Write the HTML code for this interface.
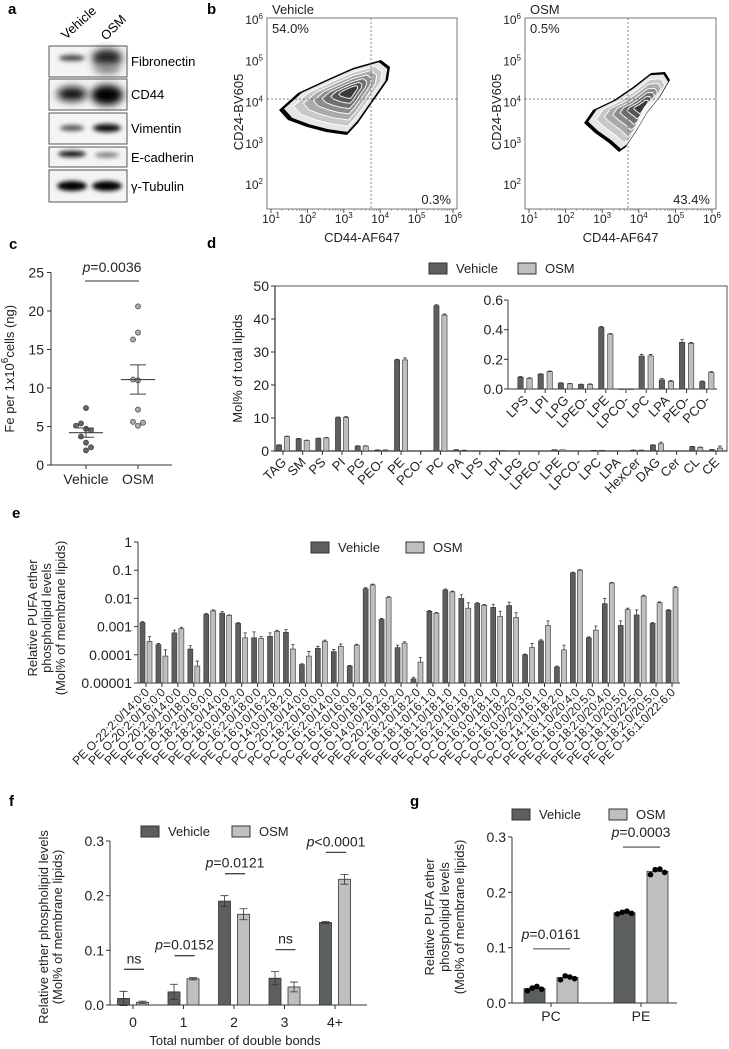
<!DOCTYPE html>
<html><head><meta charset="utf-8">
<style>
html,body{margin:0;padding:0;background:#fff;}
svg{display:block;font-family:"Liberation Sans",Arial,sans-serif;}
</style></head>
<body>
<svg id="fig" width="729" height="1049" viewBox="0 0 729 1049" xmlns="http://www.w3.org/2000/svg">
<defs>
<filter id="blur2" x="-50%" y="-100%" width="200%" height="300%"><feGaussianBlur stdDeviation="2.2"/></filter>
<filter id="blur4" x="-50%" y="-100%" width="200%" height="300%"><feGaussianBlur stdDeviation="4"/></filter>
</defs>
<!-- panel letters -->
<text x="8" y="14" font-size="15" font-weight="bold">a</text>
<text x="207" y="14" font-size="15" font-weight="bold">b</text>
<text x="9" y="249" font-size="15" font-weight="bold">c</text>
<text x="207" y="248" font-size="15" font-weight="bold">d</text>
<text x="12" y="518" font-size="15" font-weight="bold">e</text>
<text x="9" y="806" font-size="15" font-weight="bold">f</text>
<text x="410" y="806" font-size="15" font-weight="bold">g</text>

<!-- panel a blots -->
<g font-size="13">
<text transform="translate(66,40) rotate(-42)">Vehicle</text>
<text transform="translate(106,41) rotate(-45)">OSM</text>
<g>
<rect x="49" y="46" width="78" height="31" fill="#f4f4f4" stroke="#555" stroke-width="1"/>
<ellipse cx="72" cy="58" rx="13" ry="3" fill="#444" filter="url(#blur2)"/>
<ellipse cx="107" cy="58" rx="15" ry="9" fill="#222" filter="url(#blur4)"/>
<ellipse cx="107" cy="69" rx="13" ry="5" fill="#888" filter="url(#blur4)"/>
</g>
<text x="131" y="66">Fibronectin</text>
<g>
<rect x="49" y="79" width="78" height="31" fill="#f4f4f4" stroke="#555"/>
<ellipse cx="72" cy="94" rx="15" ry="7" fill="#111" filter="url(#blur4)"/>
<ellipse cx="107" cy="95" rx="16" ry="10" fill="#000" filter="url(#blur4)"/>
</g>
<text x="131" y="99">CD44</text>
<g>
<rect x="49" y="113" width="78" height="31" fill="#f4f4f4" stroke="#555"/>
<ellipse cx="72" cy="128" rx="12" ry="3" fill="#555" filter="url(#blur2)"/>
<ellipse cx="107" cy="128" rx="14" ry="4" fill="#111" filter="url(#blur2)"/>
</g>
<text x="131" y="133">Vimentin</text>
<g>
<rect x="49" y="147" width="78" height="20" fill="#f4f4f4" stroke="#555"/>
<ellipse cx="72" cy="154" rx="14" ry="3" fill="#111" filter="url(#blur2)"/>
<ellipse cx="107" cy="155" rx="12" ry="2.5" fill="#777" filter="url(#blur2)"/>
</g>
<text x="131" y="162">E-cadherin</text>
<g>
<rect x="49" y="170" width="78" height="32" fill="#f4f4f4" stroke="#555"/>
<ellipse cx="72" cy="186" rx="15" ry="5" fill="#000" filter="url(#blur2)"/>
<ellipse cx="107" cy="186" rx="15" ry="5" fill="#000" filter="url(#blur2)"/>
</g>
<text x="131" y="191">γ-Tubulin</text>
</g>
<g id="panelB"></g>
<g id="panelC"></g>
<g id="panelD"></g>
<g id="panelE"></g>
<g id="panelF"></g>
<g id="panelG"></g>
</svg>
<script>
// ---------- data ----------
const flowTitles = ["Vehicle", "OSM"];
const flowQ1 = ["54.0%", "0.5%"];
const flowQ4 = ["0.3%", "43.4%"];
const flowExps = [1, 2, 3, 4, 5, 6];
const flowYExps = [6, 5, 4, 3, 2];

const cVehicle = [1.9, 2.9, 2.3, 3.7, 4.7, 4.5, 5.4, 5.1, 7.4];
const cOSM = [20.6, 17.2, 16.3, 11.0, 11.1, 7.2, 5.1, 5.6, 5.5];
const cMeans = [4.2, 11.1];
const cSEM = [0.6, 1.9];
const cTicks = [0, 5, 10, 15, 20, 25];

const dCats = ["TAG","SM","PS","PI","PG","PEO-","PE","PCO-","PC","PA","LPS","LPI","LPG","LPEO-","LPE","LPCO-","LPC","LPA","HexCer","DAG","Cer","CL","CE"];
const dVeh = [1.8,3.7,3.8,10.1,1.5,0.3,27.6,0,44,0.35,0.08,0.1,0.04,0.03,0.41,0,0.22,0.06,0.25,1.8,0,1.3,0.4];
const dOSM = [4.4,3.2,4.0,10.2,1.5,0.3,27.6,0,41.2,0.2,0.07,0.12,0.035,0.03,0.37,0,0.22,0.05,0.25,2.2,0,1.1,0.9];
const dVehErr = [0.1,0.1,0.1,0.2,0.1,0.05,0.2,0,0.3,0.05,0,0,0,0,0,0,0,0,0.05,0.1,0,0.1,0.1];
const dOSMErr = [0.1,0.1,0.1,0.2,0.1,0.05,0.6,0,0.3,0.05,0,0,0,0,0,0,0,0,0.05,0.5,0,0.1,0.6];
const dTicks = [0,10,20,30,40,50];
const insetCats = ["LPS","LPI","LPG","LPEO-","LPE","LPCO-","LPC","LPA","PEO-","PCO-"];
const insetVeh = [0.08,0.1,0.04,0.03,0.415,0,0.222,0.062,0.315,0.05];
const insetOSM = [0.072,0.117,0.035,0.03,0.37,0,0.223,0.052,0.308,0.112];
const insetVehErr = [0.004,0.003,0.002,0.003,0.006,0,0.012,0.008,0.018,0.004];
const insetOSMErr = [0.004,0.004,0.002,0.004,0.004,0,0.01,0.006,0.005,0.006];
const insetTicks = [0.0,0.2,0.4,0.6];

const eCats = ["PE O-22:2:0/14:0:0","PE O-20:2:0/16:0:0","PE O-20:2:0/14:0:0","PE O-18:2:0/18:0:0","PE O-18:2:0/16:0:0","PE O-18:2:0/14:0:0","PE O-18:0:0/18:2:0","PE O-16:2:0/18:0:0","PE O-16:0:0/16:2:0","PC O-14:0:0/18:2:0","PC O-20:2:0/14:0:0","PC O-18:2:0/16:0:0","PC O-16:2:0/14:0:0","PC O-16:2:0/16:0:0","PE O-16:0:0/18:2:0","PE O-14:0:0/18:2:0","PE O-20:2:0/18:2:0","PE O-18:2:0/18:2:0","PE O-18:1:0/16:1:0","PE O-18:1:0/18:1:0","PE O-16:2:0/16:1:0","PC O-16:1:0/18:2:0","PC O-16:0:0/18:1:0","PE O-16:1:0/18:2:0","PC O-16:0:0/20:3:0","PC O-16:2:0/16:1:0","PC O-14:1:0/18:2:0","PE O-16:1:0/20:4:0","PE O-16:0:0/20:5:0","PE O-18:2:0/20:4:0","PE O-18:1:0/20:5:0","PE O-18:1:0/22:5:0","PE O-18:2:0/20:5:0","PE O-16:1:0/22:6:0"];
const eVeh = [1.4e-3,2.3e-4,6e-4,1.6e-4,2.7e-3,3e-3,1.3e-3,4e-4,4.5e-4,6.3e-4,4.5e-5,1.7e-4,1.3e-4,4e-5,0.022,1.8e-3,1.8e-4,1.4e-5,3.5e-3,0.02,0.01,6.6e-3,4.8e-3,5.6e-3,1e-4,3.1e-4,3.7e-5,0.08,4e-4,6.5e-3,1.1e-3,2.6e-3,1.3e-3,3.8e-3];
const eOSM = [3e-4,9e-5,8.5e-4,4e-5,3.6e-3,2.5e-3,4e-4,3.8e-4,6.8e-4,1.6e-4,9e-5,3e-4,2e-4,2.2e-4,0.03,0.011,2.6e-4,5.5e-5,3e-3,0.017,4.5e-3,5.7e-3,2.3e-3,2.1e-3,1.8e-4,1.1e-3,1.5e-4,0.1,7.5e-4,0.035,4e-3,0.012,7e-3,0.024];
const eVehErr = [1e-4,2e-5,1.5e-4,5e-5,2e-4,4e-4,1e-4,2.5e-4,1.5e-4,1.6e-4,3e-6,3e-5,2.5e-5,2e-6,2e-3,1.5e-4,4e-5,2e-6,2e-4,1.5e-3,3.5e-3,5e-4,1.4e-3,1.8e-3,5e-6,3e-5,3e-6,5e-3,3e-5,3.5e-3,5e-4,1.3e-3,1e-4,2e-4];
const eOSMErr = [1.4e-4,6e-5,1e-4,2e-5,3e-4,1e-4,2e-4,6e-5,6e-5,7e-5,4e-5,3e-5,4e-5,1.5e-5,2e-3,5e-4,3e-5,2.5e-5,2e-4,1e-3,2.5e-3,4e-4,1.2e-3,1e-3,7e-5,5e-4,7e-5,5e-3,3e-4,2e-3,5e-4,1e-3,5e-4,2e-3];
const eTickExps = [0,-1,-2,-3,-4,-5];
const eTickLabels = ["1","0.1","0.01","0.001","0.0001","0.00001"];

const fCats = ["0","1","2","3","4+"];
const fVeh = [0.012,0.024,0.19,0.049,0.151];
const fOSM = [0.005,0.048,0.166,0.033,0.23];
const fVehErr = [0.013,0.014,0.01,0.012,0.002];
const fOSMErr = [0.002,0.002,0.01,0.009,0.009];
const fAnno = ["ns","p=0.0152","p=0.0121","ns","p<0.0001"];
const fTicks = [0.0,0.1,0.2,0.3];

const gCats = ["PC","PE"];
const gVeh = [0.026,0.163];
const gOSM = [0.046,0.238];
const gVehPts = [[0.022,0.027,0.030,0.025],[0.161,0.164,0.166,0.162]];
const gOSMPts = [[0.042,0.049,0.047,0.044],[0.232,0.241,0.242,0.236]];
const gAnno = ["p=0.0161","p=0.0003"];
const gTicks = [0.0,0.1,0.2,0.3];

// ---------- helpers ----------
const NS = 'http://www.w3.org/2000/svg';
const DARK = '#5b5f60', LIGHT = '#bfbfbf', AX = '#333';
function mk(tag, attrs, parent) {
  const e = document.createElementNS(NS, tag);
  for (const k in attrs) e.setAttribute(k, attrs[k]);
  parent.appendChild(e);
  return e;
}
function tx(parent, x, y, s, attrs) {
  const t = mk('text', Object.assign({x: x, y: y, 'font-size': 13, fill: '#222'}, attrs || {}), parent);
  t.textContent = s;
  return t;
}
function pText(parent, x, y, s, size) {
  // italic p followed by rest
  const t = mk('text', {x: x, y: y, 'font-size': size || 13, 'text-anchor': 'middle', fill: '#222'}, parent);
  const a = mk('tspan', {'font-style': 'italic'}, t); a.textContent = s.charAt(0);
  const b = mk('tspan', {}, t); b.textContent = s.slice(1);
  return t;
}
function legend(parent, x, y, gapX) {
  const r1 = mk('rect', {x: x, y: y - 5, width: 18, height: 11, fill: DARK, stroke: AX}, parent);
  
  
  const t1 = tx(parent, x + 27, y + 5, 'Vehicle');
  
  
  const r2 = mk('rect', {x: x + gapX, y: y - 5, width: 18, height: 11, fill: LIGHT, stroke: AX}, parent);
  
  
  const t2 = tx(parent, x + gapX + 27, y + 5, 'OSM');
  
  
}
function errBar(parent, x, y1, y2, cap) {
  const g = mk('path', {d: `M${x},${y1}V${y2}M${x-cap},${y2}H${x+cap}`, stroke: AX, 'stroke-width': 0.8, fill: 'none'}, parent);
  return g;
}

// ---------- panel b (flow) ----------
(function () {
  const P = document.getElementById('panelB');
  const boxes = [{l: 267, r: 457, dx: 371}, {l: 525, r: 716, dx: 628}];
  const top = 18, bot = 209, hy = 99;
  const blobs = [
    {pts: [[279,110],[298,93],[326,80],[353,68],[381,60],[390,67],[388,80],[379,93],[367,110],[358,123],[347,135],[326,132],[307,127],[288,120]], c: [351,91]},
    {pts: [[584,123],[593,110],[614,100],[633,87],[651,73],[665,72],[670,80],[660,97],[647,113],[637,130],[626,147],[619,152],[609,143],[595,133]], c: [644,106]}
  ];
  boxes.forEach((b, k) => {
    const g = mk('g', {}, P);
    
    
    mk('rect', {x: b.l, y: top, width: b.r - b.l, height: bot - top, fill: '#fff', stroke: '#777', 'stroke-width': 1}, g);
    // contours
    const bl = blobs[k];
    const scales = [1, 0.93, 0.8, 0.66, 0.52, 0.4, 0.28, 0.17];
    const fills = ['#000', '#e6e6e6', '#c8c8c8', '#aaaaaa', '#8c8c8c', '#6e6e6e', '#555', '#3a3a3a'];
    scales.forEach((s, i) => {
      const pts = bl.pts.map(p => [(bl.c[0] + (p[0] - bl.c[0]) * s).toFixed(1), (bl.c[1] + (p[1] - bl.c[1]) * s).toFixed(1)].join(',')).join(' ');
      mk('polygon', {points: pts, fill: fills[i], stroke: i >= 2 ? '#fff' : 'none', 'stroke-width': 0.9, 'stroke-linejoin': 'round'}, g);
    });
    const blob = g.lastChild;  
    mk('line', {x1: b.dx, x2: b.dx, y1: top, y2: bot, stroke: '#555', 'stroke-dasharray': '2,2', 'stroke-width': 0.7}, g);
    mk('line', {x1: b.l, x2: b.r, y1: hy, y2: hy, stroke: '#555', 'stroke-dasharray': '2,2', 'stroke-width': 0.7}, g);
    // x ticks
    const xDec = (b.r - b.l - 8) / 5;
    flowExps.forEach((e, i) => {
      const x = b.l + 4 + i * xDec;
      mk('line', {x1: x, x2: x, y1: bot, y2: bot + 4, stroke: '#555'}, g);
      if (i < 5) for (let m = 2; m < 10; m++) {
        const xm = x + Math.log10(m) * xDec;
        mk('line', {x1: xm, x2: xm, y1: bot, y2: bot + 2, stroke: '#777', 'stroke-width': 0.6}, g);
      }
      const t = mk('text', {x: x, y: bot + 14, 'font-size': 12, 'text-anchor': 'middle', fill: '#222'}, g);
      t.textContent = '10';
      const s = mk('tspan', {'font-size': 8, dy: -5}, t); s.textContent = String(e);
      
      
    });
    flowYExps.forEach((e, i) => {
      const y = 20 + i * 41.3;
      const t = mk('text', {x: b.l - 4, y: y + 4, 'font-size': 12, 'text-anchor': 'end', fill: '#222'}, g);
      t.textContent = '10';
      const s = mk('tspan', {'font-size': 8, dy: -5}, t); s.textContent = String(e);
      
      
    });
    const xt = tx(g, (b.l + b.r) / 2, 242, 'CD44-AF647', {'text-anchor': 'middle', 'font-size': 13});
    
    
    const yt = tx(g, 0, 0, 'CD24-BV605', {'text-anchor': 'middle', 'font-size': 13, transform: `translate(${b.l - 24},112) rotate(-90)`});
    
    
    const tt = tx(g, b.l + 5, 14, flowTitles[k], {'font-size': 13});
    
    
    const q1 = tx(g, b.l + 5, 33, flowQ1[k], {'font-size': 13});
    
    
    const q4 = tx(g, b.r - 6, 204, flowQ4[k], {'font-size': 13, 'text-anchor': 'end'});
    
    
  });
})();

// ---------- panel c ----------
(function () {
  const P = document.getElementById('panelC');
  const X0 = 51, yC = v => 465 - v * 7.7;
  const xs = [86, 138];
  mk('path', {d: `M${X0},${yC(25)}V${yC(0)}H172`, stroke: AX, fill: 'none', 'stroke-width': 1}, P);
  cTicks.forEach(t => {
    mk('line', {x1: X0 - 4, x2: X0, y1: yC(t), y2: yC(t), stroke: AX}, P);
    const l = tx(P, X0 - 7, yC(t) + 5, String(t), {'text-anchor': 'end', 'font-size': 14});
    
    
  });
  ['Vehicle', 'OSM'].forEach((n, i) => {
    mk('line', {x1: xs[i], x2: xs[i], y1: yC(0), y2: yC(0) + 4, stroke: AX}, P);
    const l = tx(P, xs[i], 484, n, {'text-anchor': 'middle', 'font-size': 14});
    
    
  });
  const yl = tx(P, 0, 0, '', {'text-anchor': 'middle', 'font-size': 13, transform: `translate(14,${yC(12.5)}) rotate(-90)`});
  yl.textContent = 'Fe per 1x10';
  const sup = mk('tspan', {dy: -6, 'font-size': 10}, yl); sup.textContent = '6';
  const rest = mk('tspan', {dy: 6}, yl); rest.textContent = 'cells (ng)';
  
  
  [cVehicle, cOSM].forEach((arr, gi) => {
    const placed = [];
    arr.forEach(v => {
      const near = placed.filter(p => Math.abs(p - v) < 0.9).length;
      const off = [0, -5, 5, -10, 10][near % 5];
      placed.push(v);
      const c = mk('circle', {cx: xs[gi] + off, cy: yC(v), r: 2.6, fill: gi ? '#aaa' : '#666', stroke: '#333', 'stroke-width': 0.6}, P);
      
      
    });
    const m = cMeans[gi], s = cSEM[gi];
    const ml = mk('line', {x1: xs[gi] - 17, x2: xs[gi] + 17, y1: yC(m), y2: yC(m), stroke: '#444', 'stroke-width': 1.1}, P);
    
    
    mk('path', {d: `M${xs[gi]},${yC(m - s)}V${yC(m + s)}M${xs[gi] - 8},${yC(m - s)}H${xs[gi] + 8}M${xs[gi] - 8},${yC(m + s)}H${xs[gi] + 8}`, stroke: '#444', fill: 'none', 'stroke-width': 1}, P);
  });
  mk('line', {x1: 85, x2: 139, y1: 281, y2: 281, stroke: '#333', 'stroke-width': 1}, P);
  const pt = pText(P, 112, 272, 'p=0.0036', 14);
  
  
})();

// ---------- panel d ----------
(function () {
  const P = document.getElementById('panelD');
  const X0 = 275, XR = 727, yD = v => 451 - v * 3.3, xD = i => 283 + i * 19.68;
  legend(P, 429, 268, 89);
  mk('rect', {x: X0, y: yD(50), width: XR - X0, height: yD(0) - yD(50), fill: 'none', stroke: '#555', 'stroke-width': 1}, P);
  mk('path', {d: `M${X0},${yD(50)}V${yD(0)}H${XR}`, stroke: AX, fill: 'none', 'stroke-width': 1.2}, P);
  dTicks.forEach(t => {
    mk('line', {x1: X0 - 4, x2: X0, y1: yD(t), y2: yD(t), stroke: AX}, P);
    const l = tx(P, X0 - 6, yD(t) + 5, String(t), {'text-anchor': 'end', 'font-size': 14});
    
    
  });
  const yl = tx(P, 0, 0, 'Mol% of total lipids', {'text-anchor': 'middle', 'font-size': 13, transform: `translate(242,${yD(25)}) rotate(-90)`});
  
  
  dCats.forEach((c, i) => {
    const x = xD(i);
    mk('line', {x1: x, x2: x, y1: yD(0), y2: yD(0) + 4, stroke: AX}, P);
    const l = tx(P, 0, 0, c, {'text-anchor': 'end', 'font-size': 13, transform: `translate(${x + 4},${yD(0) + 12}) rotate(-45)`});
    
    
    [[dVeh, dVehErr, DARK, -4, 'bar-vehicle'], [dOSM, dOSMErr, LIGHT, 4, 'bar-osm']].forEach(s => {
      const v = s[0][i];
      if (v <= 0) return;
      const b = mk('rect', {x: x + s[3] - 2.6, y: yD(v), width: 5.2, height: yD(0) - yD(v), fill: s[2], stroke: AX, 'stroke-width': 0.6}, P);
      
      
      if (s[1][i] > 0) errBar(P, x + s[3], yD(v), yD(v + s[1][i]), 1.8);
    });
  });
  // inset
  const IX0 = 508, IXR = 717, yI = v => 389 - v / 0.6 * 89, xI = i => 525 + i * 20.2;
  const ig = mk('g', {}, P);
  
  
  mk('path', {d: `M${IX0},${yI(0.6)}V${yI(0)}H${IXR}`, stroke: AX, fill: 'none', 'stroke-width': 1}, ig);
  insetTicks.forEach(t => {
    mk('line', {x1: IX0 - 4, x2: IX0, y1: yI(t), y2: yI(t), stroke: AX}, ig);
    const l = tx(ig, IX0 - 5, yI(t) + 5, t.toFixed(1), {'text-anchor': 'end', 'font-size': 14});
    
    
  });
  insetCats.forEach((c, i) => {
    const x = xI(i);
    mk('line', {x1: x, x2: x, y1: yI(0), y2: yI(0) + 4, stroke: AX}, ig);
    const l = tx(ig, 0, 0, c, {'text-anchor': 'end', 'font-size': 13, transform: `translate(${x + 4},${yI(0) + 12}) rotate(-45)`});
    
    
    [[insetVeh, insetVehErr, DARK, -4.5, 'inset-bar-vehicle'], [insetOSM, insetOSMErr, LIGHT, 4.5, 'inset-bar-osm']].forEach(s => {
      const v = s[0][i];
      const b = mk('rect', {x: x + s[3] - 2.7, y: yI(v), width: 5.4, height: Math.max(0.5, yI(0) - yI(v)), fill: s[2], stroke: AX, 'stroke-width': 0.6}, ig);
      
      
      if (s[1][i] > 0) errBar(ig, x + s[3], yI(v), yI(v + s[1][i]), 1.8);
    });
  });
})();

// ---------- panel e ----------
(function () {
  const P = document.getElementById('panelE');
  const X0 = 138, XR = 680, yE = v => 542 - Math.log10(v) * 28.2, xE = i => 146 + i * 15.94;
  legend(P, 311, 547, 95);
  mk('path', {d: `M${X0},${yE(1)}V${yE(1e-5)}H${XR}`, stroke: AX, fill: 'none', 'stroke-width': 1}, P);
  eTickExps.forEach((e, i) => {
    const y = yE(Math.pow(10, e));
    mk('line', {x1: X0 - 4, x2: X0, y1: y, y2: y, stroke: AX}, P);
    const l = tx(P, X0 - 6, y + 5, eTickLabels[i], {'text-anchor': 'end', 'font-size': 14});
    
    
  });
  const lines = ['Relative PUFA ether', 'phospholipid levels', '(Mol% of membrane lipids)'];
  lines.forEach((s, i) => {
    const l = tx(P, 0, 0, s, {'text-anchor': 'middle', 'font-size': 13, transform: `translate(${37 + i * 14},618) rotate(-90)`});
    
    
  });
  const base = yE(1e-5);
  eCats.forEach((c, i) => {
    const x = xE(i);
    mk('line', {x1: x, x2: x, y1: base, y2: base + 4, stroke: AX}, P);
    const l = tx(P, 0, 0, c, {'text-anchor': 'end', 'font-size': 12, transform: `translate(${x + 4},${base + 10}) rotate(-45)`});
    
    
    [[eVeh, eVehErr, DARK, -3.5, 'bar-vehicle'], [eOSM, eOSMErr, LIGHT, 3.5, 'bar-osm']].forEach(s => {
      const v = s[0][i];
      const b = mk('rect', {x: x + s[3] - 2.5, y: yE(v), width: 5, height: base - yE(v), fill: s[2], stroke: AX, 'stroke-width': 0.6}, P);
      
      
      errBar(P, x + s[3], yE(v), yE(v + s[1][i]), 1.6);
    });
  });
})();

// ---------- panel f ----------
(function () {
  const P = document.getElementById('panelF');
  const X0 = 110, XR = 367, yF = v => 1005 - v / 0.3 * 164, xF = i => 133 + i * 50.5;
  legend(P, 141, 831, 91);
  mk('path', {d: `M${X0},${yF(0.3)}V${yF(0)}H${XR}`, stroke: AX, fill: 'none', 'stroke-width': 1}, P);
  fTicks.forEach(t => {
    mk('line', {x1: X0 - 4, x2: X0, y1: yF(t), y2: yF(t), stroke: AX}, P);
    const l = tx(P, X0 - 6, yF(t) + 5, t.toFixed(1), {'text-anchor': 'end', 'font-size': 14});
    
    
  });
  ['Relative ether phospholipid levels', '(Mol% of membrane lipids)'].forEach((s, i) => {
    const l = tx(P, 0, 0, s, {'text-anchor': 'middle', 'font-size': 13, transform: `translate(${48 + i * 14},927) rotate(-90)`});
    
    
  });
  const xt = tx(P, 235, 1045, 'Total number of double bonds', {'text-anchor': 'middle', 'font-size': 13});
  
  
  fCats.forEach((c, i) => {
    const x = xF(i);
    mk('line', {x1: x, x2: x, y1: yF(0), y2: yF(0) + 4, stroke: AX}, P);
    const l = tx(P, x, 1027, c, {'text-anchor': 'middle', 'font-size': 14});
    
    
    [[fVeh, fVehErr, DARK, -9.5, 'bar-vehicle'], [fOSM, fOSMErr, LIGHT, 9.5, 'bar-osm']].forEach(s => {
      const v = s[0][i];
      const b = mk('rect', {x: x + s[3] - 6, y: yF(v), width: 12, height: yF(0) - yF(v), fill: s[2], stroke: AX, 'stroke-width': 0.8}, P);
      
      
      const e = s[1][i];
      mk('path', {d: `M${x + s[3]},${yF(v - e)}V${yF(v + e)}M${x + s[3] - 4},${yF(v - e)}H${x + s[3] + 4}M${x + s[3] - 4},${yF(v + e)}H${x + s[3] + 4}`, stroke: AX, fill: 'none', 'stroke-width': 0.8}, P);
    });
    const top = Math.max(fVeh[i] + fVehErr[i], fOSM[i] + fOSMErr[i]);
    const ly = yF(top) - 22;
    mk('line', {x1: x - 9, x2: x + 11, y1: ly, y2: ly, stroke: '#444', 'stroke-width': 1.3}, P);
    const a = fAnno[i].startsWith('p') ? pText(P, x + 1, ly - 6, fAnno[i], 14) : tx(P, x + 1, ly - 6, fAnno[i], {'text-anchor': 'middle', 'font-size': 14});
    
    
  });
})();

// ---------- panel g ----------
(function () {
  const P = document.getElementById('panelG');
  const X0 = 512, XR = 677, yG = v => 1003 - v / 0.3 * 166, xs = [551, 641];
  legend(P, 512, 814, 97);
  mk('path', {d: `M${X0},${yG(0.3)}V${yG(0)}H${XR}`, stroke: AX, fill: 'none', 'stroke-width': 1}, P);
  gTicks.forEach(t => {
    mk('line', {x1: X0 - 4, x2: X0, y1: yG(t), y2: yG(t), stroke: AX}, P);
    const l = tx(P, X0 - 6, yG(t) + 5, t.toFixed(1), {'text-anchor': 'end', 'font-size': 14});
    
    
  });
  ['Relative PUFA ether', 'phospholipid levels', '(Mol% of membrane lipids)'].forEach((s, i) => {
    const l = tx(P, 0, 0, s, {'text-anchor': 'middle', 'font-size': 13, transform: `translate(${434 + i * 15},917) rotate(-90)`});
    
    
  });
  gCats.forEach((c, i) => {
    const x = xs[i];
    mk('line', {x1: x, x2: x, y1: yG(0), y2: yG(0) + 4, stroke: AX}, P);
    const l = tx(P, x, 1021, c, {'text-anchor': 'middle', 'font-size': 14});
    
    
    [[gVeh, gVehPts, DARK, -16.5, 'bar-vehicle'], [gOSM, gOSMPts, LIGHT, 16.5, 'bar-osm']].forEach(s => {
      const v = s[0][i];
      const bx = x + s[3];
      const b = mk('rect', {x: bx - 10.5, y: yG(v), width: 21, height: yG(0) - yG(v), fill: s[2], stroke: AX, 'stroke-width': 0.8}, P);
      
      
      s[1][i].forEach((p, k) => {
        const d = mk('circle', {cx: bx - 7 + k * 4.7, cy: yG(p), r: 2.8, fill: '#000'}, P);
        
        
      });
    });
    const top = Math.max(...gOSMPts[i], ...gVehPts[i]);
    const ly = yG(top) - (i === 0 ? 27 : 22);
    mk('line', {x1: x - 18, x2: x + 19, y1: ly, y2: ly, stroke: '#444', 'stroke-width': 1.1}, P);
    const a = pText(P, x, ly - 10, gAnno[i], 14);
    
    
  });
})();
</script>
</body></html>
